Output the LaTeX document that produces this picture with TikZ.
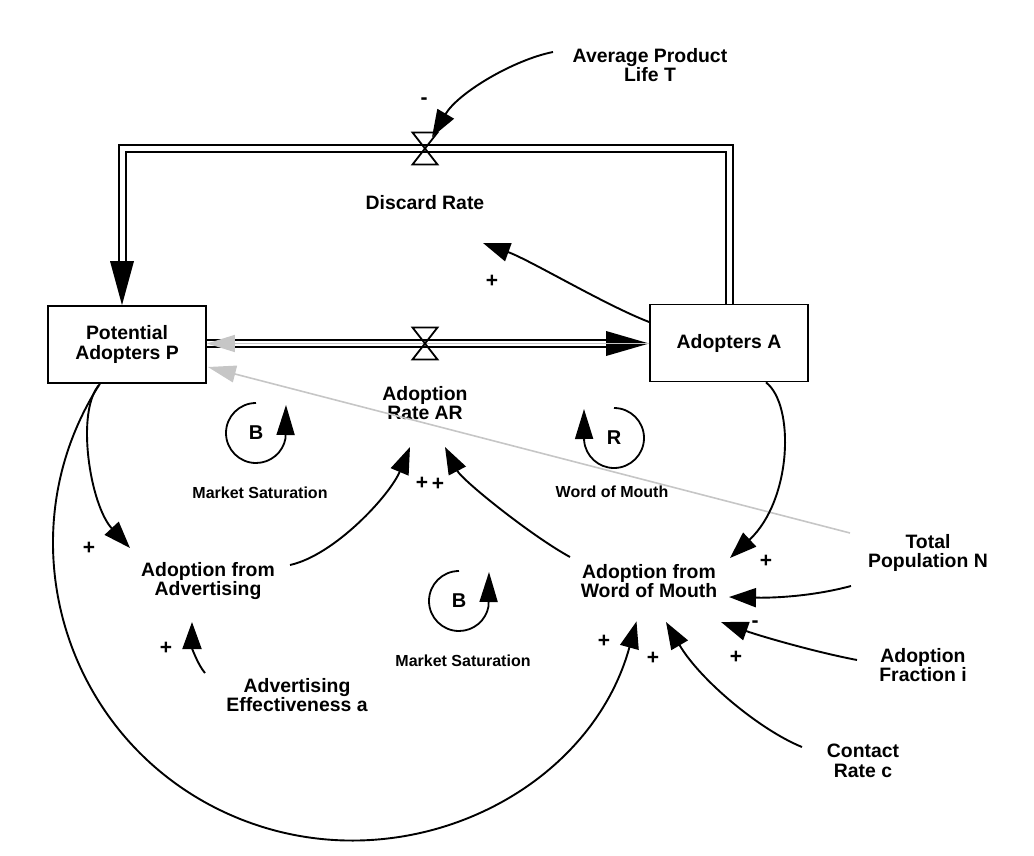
\documentclass[tikz,border=0pt]{standalone}
\usepackage{fontspec}
\setmainfont{Liberation Sans}
\usetikzlibrary{arrows.meta,calc}
\tikzset{
 lbl/.style={font=\fontsize{19.4}{19.5}\selectfont\bfseries, align=center, inner sep=0pt},
 loopname/.style={font=\fontsize{20}{20}\selectfont\bfseries, inner sep=0pt},
 small/.style={font=\fontsize{16}{16}\selectfont\bfseries, inner sep=0pt},
 sgn/.style={font=\fontsize{21}{21}\selectfont\bfseries, inner sep=0pt},
 stock/.style={lbl, draw, line width=1.8pt, minimum width=158pt, minimum height=77pt},
 link/.style={line width=1.9pt, -{Triangle[length=27pt,width=19pt]}},
 pipe/.style={draw, double, double distance=5pt, line width=2pt},
 graylink/.style={draw=gray!45, line width=1.6pt, -{Triangle[length=28pt,width=17pt]}},
 loopar/.style={line width=1.8pt, -{Triangle[length=30pt,width=18pt]}},
 valve/.pic={\draw[line width=1.8pt, line join=miter] (-12.5,-16) -- (12.5,-16) -- (-12.5,16) -- (12.5,16) -- cycle;}
}
\begin{document}
\begin{tikzpicture}[x=1pt,y=-1pt]
\useasboundingbox (0,0) rectangle (1034,856);

% stocks
\node[stock] (P) at (127,344.5) {Potential\\Adopters P};
\node[stock] (A) at (729,343) {Adopters A};

% valves positions
\coordinate (V1) at (425,148.5);
\coordinate (V2) at (425,343.5);

% variables
\node[lbl] (DR) at (425,203) {Discard Rate};
\node[lbl] (APLT) at (650,65) {Average Product\\Life T};
\node[lbl] (AR) at (425,403) {Adoption\\Rate AR};
\node[lbl] (AFA) at (208,581) {Adoption from\\Advertising};
\node[lbl] (AOWM) at (649,581) {Adoption from\\Word of Mouth};
\node[lbl] (AEA) at (297,695) {Advertising\\Effectiveness a};
\node[lbl] (TPN) at (928,553) {Total\\Population N};
\node[lbl] (AFI) at (923,665) {Adoption\\Fraction i};
\node[lbl] (CRC) at (863,761) {Contact\\Rate c};

% pipes
\draw[pipe] (A.north) -- (A.north |- V1) -- ($(P.north |- V1)+(-5,0)$) -- ($(P.north)+(-5,-44)$);
\fill ($(P.north)+(-5,0)$) -- ++(-12,-44) -- ++(24,0) -- cycle;
\draw[pipe] (P.east |- V2) -- ($(A.west |- V2)+(-43,0)$);
\fill (A.west |- V2) -- ++(-43,-12.5) -- ++(0,25) -- cycle;
\draw[graylink] (A.west |- V2) -- (P.east |- V2);

% gray link from total population
\draw[graylink] ($(TPN)+(-78,-20)$) -- ($(P.east)+(1,22.5)$);

% valves
\pic at (V1) {valve};
\pic at (V2) {valve};

% links
\draw[link] ($(APLT)+(-97,-13)$) .. controls (513,60) and (458,93) .. ($(V1)+(7,-11.5)$);
\draw[link] ($(A.west)+(0,-21)$) .. controls (605,305) and (530,260) .. ($(DR)+(58,40)$);
\draw[link] ($(P.south)+(-27,0)$) .. controls (75,410) and (90,505) .. ($(AFA)+(-78,-33)$);
\draw[link] ($(P.south)+(-28.3,1.7)$) .. controls (2.1,538.1) and (64.5,741.8) .. (230.4,814.9)
   .. controls (396.3,888.0) and (588.6,796.4) .. ($(AOWM)+(-12.5,40.4)$);
\draw[link] ($(AFA)+(82,-16)$) .. controls (335,555) and (390,495) .. ($(AR)+(-15,44)$);
\draw[link] ($(AOWM)+(-79,-24)$) .. controls (530,535) and (462,480) .. ($(AR)+(20,44)$);
\draw[link] ($(A.south)+(37,0)$) .. controls (795,405) and (792,500) .. ($(AOWM)+(81,-23)$);
\draw[link] ($(TPN)+(-77,33)$) .. controls (810,597) and (770,598) .. ($(AOWM)+(80,16)$);
\draw[link] ($(AFI)+(-66,-5)$) .. controls (815,652) and (760,636) .. ($(AOWM)+(72,41)$);
\draw[link] ($(CRC)+(-61,-14)$) .. controls (760,730) and (700,680) .. ($(AOWM)+(17,41)$);
\draw[link] ($(AEA)+(-92,-22)$) .. controls (198,665) and (192,648) .. ($(AFA)+(-16,41)$);

% loops
\node[loopname] (B1) at (256,433) {B};
\draw[loopar] ($(B1)+(0,-30)$) arc[start angle=-90, end angle=-350, radius=30] -- ($(B1)+(30,-28)$);
\node[loopname] (R1) at (614,438) {R};
\draw[loopar] ($(R1)+(0,-30)$) arc[start angle=-90, end angle=175, radius=30] -- ($(R1)+(-30,-29)$);
\node[loopname] (B2) at (459,601) {B};
\draw[loopar] ($(B2)+(0,-30)$) arc[start angle=-90, end angle=-350, radius=30] -- ($(B2)+(30,-29)$);

\node[small] (ms1) at (260,493) {Market Saturation};
\node[small] (wom) at (612,492) {Word of Mouth};
\node[small] (ms2) at (463,661) {Market Saturation};

% polarity signs
\node[sgn] (s1) at (424,101) {-};
\node[sgn] (s2) at (492,281) {+};
\node[sgn] (s3) at (89,548) {+};
\node[sgn] (s4) at (166,648) {+};
\node[sgn] (s5) at (422,483) {+};
\node[sgn] (s6) at (438,484) {+};
\node[sgn] (s7) at (766,561) {+};
\node[sgn] (s8) at (755,624) {-};
\node[sgn] (s9) at (736,657) {+};
\node[sgn] (s10) at (653,658) {+};
\node[sgn] (s11) at (604,641) {+};
\end{tikzpicture}
\end{document}
